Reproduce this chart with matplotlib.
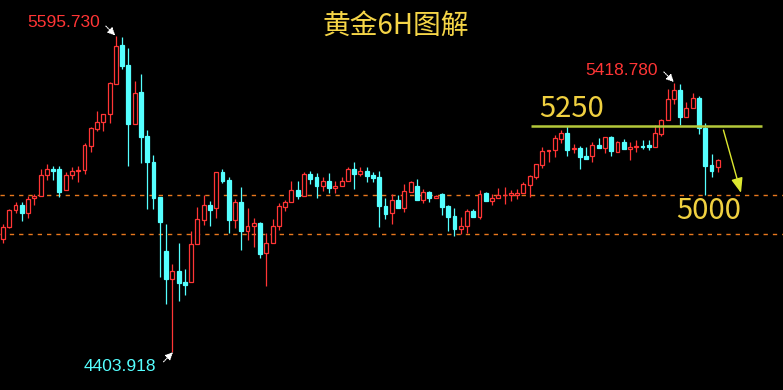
import matplotlib.pyplot as plt
import numpy as np

plt.rcParams['font.family'] = ['Noto Sans CJK SC', 'DejaVu Sans']

# 黄金 6H K线 (开, 高, 低, 收)
open_ = [4829, 4876, 4938, 4957, 4929, 4984, 4991, 5070, 5093, 5093,
         5014, 5070, 5086, 5089, 5180, 5246, 5270, 5300, 5416, 5562,
         5486, 5265, 5385, 5219, 5120, 4988, 4785, 4680, 4709, 4668,
         4669, 4810, 4903, 4957, 4948, 5082, 5051, 4903, 4970, 4861,
         4878, 4890, 4778, 4814, 4878, 4952, 4969, 5014, 4991, 5074,
         5064, 5031, 5049, 5024, 5029, 5048, 5094, 5076, 5086, 5071,
         5064, 4955, 4929, 4976, 4948, 5008, 5030, 4978, 5007, 4986,
         4999, 4955, 4917, 4869, 4879, 4936, 4914, 5002, 4975, 4986,
         4995, 4995, 4997, 5002, 5035, 5065, 5109, 5161, 5165, 5208,
         5230, 5168, 5173, 5142, 5144, 5185, 5174, 5214, 5159, 5195,
         5171, 5178, 5182, 5184, 5178, 5227, 5280, 5357, 5392, 5289,
         5323, 5362, 5248, 5108, 5100]
high = [4887, 4942, 4969, 4969, 4993, 4999, 5094, 5112, 5105, 5105,
        5082, 5102, 5105, 5191, 5252, 5314, 5300, 5421, 5595.73, 5592,
        5549, 5426, 5452, 5241, 5147, 4988, 4887, 4736, 4815, 4717,
        4859, 4951, 4996, 4975, 5082, 5094, 5064, 4980, 5026, 4947,
        4908, 4894, 4851, 4904, 4965, 4976, 5049, 5049, 5083, 5087,
        5079, 5065, 5079, 5049, 5064, 5102, 5119, 5102, 5102, 5083,
        5087, 4985, 5001, 4995, 5039, 5049, 5056, 5018, 5011, 4997,
        5005, 4958, 4947, 4912, 4942, 4943, 5014, 5008, 4999, 5022,
        5026, 5015, 5018, 5045, 5070, 5112, 5177, 5165, 5222, 5240,
        5255, 5190, 5181, 5178, 5196, 5211, 5214, 5219, 5199, 5206,
        5196, 5202, 5202, 5202, 5259, 5282, 5396, 5418.78, 5414, 5347,
        5380, 5369, 5266, 5151, 5131]
low = [4814, 4870, 4929, 4899, 4910, 4958, 4991, 5054, 5054, 4990,
       5014, 5057, 5046, 5076, 5157, 5239, 5239, 5269, 5416, 5472,
       5105, 5265, 5116, 4944, 4944, 4688, 4586, 4403.918, 4597, 4620,
       4669, 4810, 4884, 4880, 4910, 5042, 4854, 4873, 4790, 4827,
       4801, 4760, 4654, 4814, 4865, 4937, 4969, 4982, 4991, 5039,
       4986, 5011, 5002, 5002, 5029, 5048, 5020, 5069, 5046, 5046,
       4876, 4906, 4888, 4948, 4933, 5008, 4978, 4967, 4971, 4986,
       4921, 4861, 4842, 4850, 4854, 4914, 4905, 4975, 4958, 4986,
       4963, 4975, 4981, 5002, 4990, 5056, 5099, 5122, 5139, 5191,
       5144, 5153, 5095, 5133, 5120, 5174, 5156, 5144, 5159, 5171,
       5129, 5159, 5170, 5167, 5178, 5220, 5280, 5340, 5260, 5289,
       5323, 5227, 4995, 5065, 5084]
close = [4876, 4938, 4957, 4929, 4980, 4992, 5070, 5093, 5088, 5008,
         5070, 5085, 5090, 5184, 5248, 5270, 5300, 5418, 5558, 5484,
         5265, 5381, 5216, 5122, 4986, 4895, 4680, 4709, 4665, 4658,
         4810, 4904, 4957, 4941, 5082, 5050, 4903, 4970, 4861, 4878,
         4889, 4775, 4814, 4879, 4955, 4970, 5014, 4991, 5074, 5057,
         5031, 5049, 5024, 5030, 5049, 5094, 5076, 5085, 5069, 5061,
         4956, 4925, 4976, 4948, 5010, 5044, 4978, 5006, 4986, 4992,
         4952, 4914, 4869, 4878, 4934, 4914, 5001, 4975, 4985, 4995,
         4996, 5004, 5004, 5036, 5067, 5112, 5161, 5165, 5210, 5230,
         5167, 5172, 5141, 5133, 5185, 5174, 5214, 5163, 5195, 5171,
         5178, 5182, 5178, 5177, 5229, 5278, 5357, 5391, 5291, 5323,
         5361, 5248, 5106, 5088, 5127]

support_levels = [4995, 4848]
resistance = 5257

RED = '#ff3535'
CYAN = '#55ffff'

o = np.array(open_, dtype=float)
h = np.array(high, dtype=float)
l = np.array(low, dtype=float)
c = np.array(close, dtype=float)
x = np.arange(len(o))
up = c >= o
lo = np.minimum(o, c)
hi = np.maximum(o, c)

fig = plt.figure(figsize=(7.83, 3.90), dpi=100, facecolor='black')
ax = fig.add_axes([0, 0, 1, 1])
ax.set_facecolor('black')

# dashed support levels
for lev in support_levels:
    ax.axhline(lev, color='#e8781e', lw=1.0, ls=(0, (3.1, 3.6)), zorder=1)

# wicks
ax.vlines(x[~up], l[~up], h[~up], color=CYAN, lw=0.9, zorder=2)
ax.vlines(x[up], l[up], lo[up], color=RED, lw=0.9, zorder=2)
ax.vlines(x[up], hi[up], h[up], color=RED, lw=0.9, zorder=2)

# bodies
ax.bar(x[up], hi[up] - lo[up], bottom=lo[up], width=0.62,
       facecolor='black', edgecolor=RED, linewidth=0.9, zorder=3)
ax.bar(x[~up], hi[~up] - lo[~up], bottom=lo[~up], width=0.62,
       facecolor=CYAN, edgecolor=CYAN, linewidth=0.9, zorder=3)

# 5250 resistance line
ax.hlines(resistance, 84.2, 121.05, color='#b4c83a', lw=1.8, zorder=4)

ax.text(90.6, 5320, '5250', color='#f0d040', fontsize=21,
        ha='center', va='center')
ax.text(112.5, 4936, '5000', color='#f0d040', fontsize=21,
        ha='center', va='center')

# down arrow toward 5000
ax.annotate('', xy=(117.7, 5004), xytext=(114.9, 5241),
            arrowprops=dict(arrowstyle='-|>,head_length=0.9,head_width=0.35',
                            color='#dde830', lw=1.0, shrinkA=0, shrinkB=0),
            zorder=5)

# high / low labels
lab_font = ['Liberation Sans', 'DejaVu Sans']
pointer = dict(arrowstyle='-|>,head_length=0.45,head_width=0.22',
               color='white', lw=0.8, ls=(0, (1, 1)), shrinkA=0, shrinkB=0)
ax.text(9.6, 5645, '5595.730', color=RED, fontsize=12.5, family=lab_font,
        ha='center', va='center')
ax.annotate('', xy=(17.9, 5598), xytext=(16.4, 5633), arrowprops=pointer)
ax.text(98.6, 5467, '5418.780', color=RED, fontsize=12.5, family=lab_font,
        ha='center', va='center')
ax.annotate('', xy=(107.0, 5422), xytext=(105.4, 5460), arrowprops=pointer)
ax.text(18.7, 4351, '4403.918', color=CYAN, fontsize=12.5, family=lab_font,
        ha='center', va='center')
ax.annotate('', xy=(27.1, 4403), xytext=(25.6, 4367), arrowprops=pointer)

fig.text(396 / 783, 1 - 26 / 390, '黄金6H图解', color='#f5d547', fontsize=20,
         ha='center', va='center')

ax.set_xlim(-0.48, 124.4)
ax.set_ylim(4260.6, 5731.5)
ax.axis('off')

fig.savefig('out.png', dpi=100, facecolor='black')
